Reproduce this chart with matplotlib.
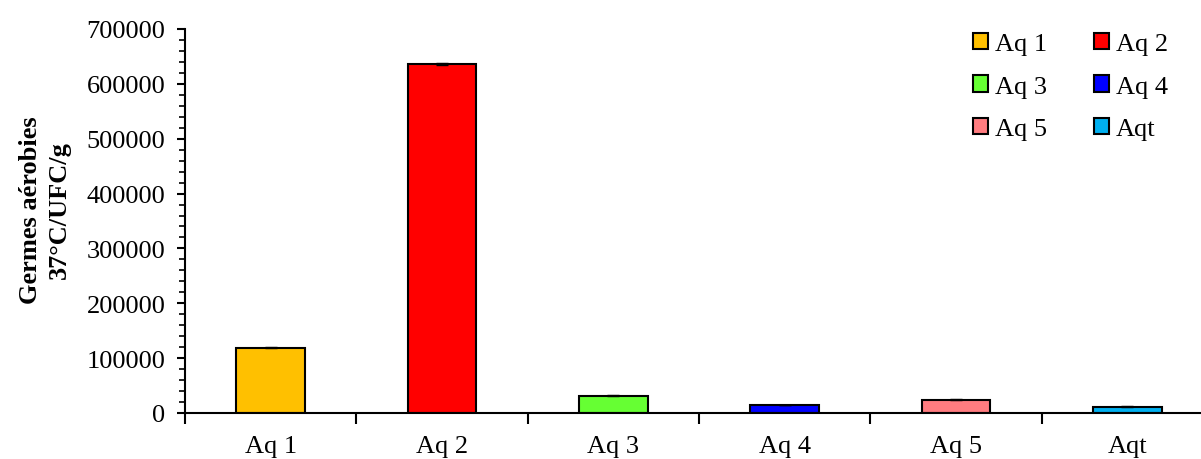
import matplotlib
matplotlib.use('Agg')
import matplotlib.pyplot as plt
from matplotlib.ticker import MultipleLocator, FixedLocator
import numpy as np

# data
categories = ['Aq 1', 'Aq 2', 'Aq 3', 'Aq 4', 'Aq 5', 'Aqt']
values = [119000, 636000, 31500, 14500, 24000, 11500]
errors = [1200, 1500, 800, 600, 700, 500]
colors = ['#FFC000', '#FF0000', '#66FF33', '#0000FF', '#FF7C80', '#00B0F0']

plt.rcParams['font.family'] = ['Liberation Serif', 'DejaVu Serif']
FS = 19

W, H = 1201, 460
fig = plt.figure(figsize=(W / 100, H / 100), dpi=100)
# right edge of the axes runs past the figure, as in the reference
ax = fig.add_axes([185 / W, 46 / H, 1028 / W, 384 / H])

x = np.arange(len(categories))
bars = []
for i in range(len(categories)):
    b = ax.bar(x[i], values[i], width=0.4, color=colors[i], edgecolor='black',
               linewidth=1.5, label=categories[i], zorder=2)
    bars.append(b)
ax.errorbar(x, values, yerr=errors, fmt='none', ecolor='black',
            elinewidth=1, capsize=4, capthick=1, zorder=3)

ax.set_xlim(-0.5, len(categories) - 0.5)
ax.set_ylim(0, 700000)
ax.yaxis.set_major_locator(MultipleLocator(100000))
ax.yaxis.set_minor_locator(MultipleLocator(20000))
ax.set_xticks(x)
ax.set_xticklabels(categories)
ax.xaxis.set_minor_locator(FixedLocator(np.arange(-0.5, len(categories), 1.0)))

ax.tick_params(axis='x', which='major', length=0, pad=16, labelsize=FS)
ax.tick_params(axis='x', which='minor', length=8, width=1.5, direction='out')
ax.tick_params(axis='y', which='major', length=6, width=1.5, pad=8,
               labelsize=FS, direction='out')
ax.tick_params(axis='y', which='minor', length=4, width=1.2, direction='out')

for s in ['top', 'right']:
    ax.spines[s].set_visible(False)
for s in ['left', 'bottom']:
    ax.spines[s].set_linewidth(1.5)

fig.text(45 / W, 1 - 210 / H, 'Germes aérobies\n37°C/UFC/g', rotation=90,
         ha='center', va='center', fontsize=FS, fontweight='bold',
         linespacing=1.35)

# row-wise legend order: Aq1 Aq2 / Aq3 Aq4 / Aq5 Aqt
order = [0, 2, 4, 1, 3, 5]
fig.legend([bars[i] for i in order], [categories[i] for i in order],
           loc='upper left', bbox_to_anchor=(973 / W, 1 - 34 / H), ncol=2,
           frameon=False, fontsize=FS, borderpad=0, borderaxespad=0,
           handlelength=0.57, handleheight=0.57, handletextpad=0.25,
           labelspacing=0.76, columnspacing=1.8)

fig.savefig('out.png', dpi=100)
